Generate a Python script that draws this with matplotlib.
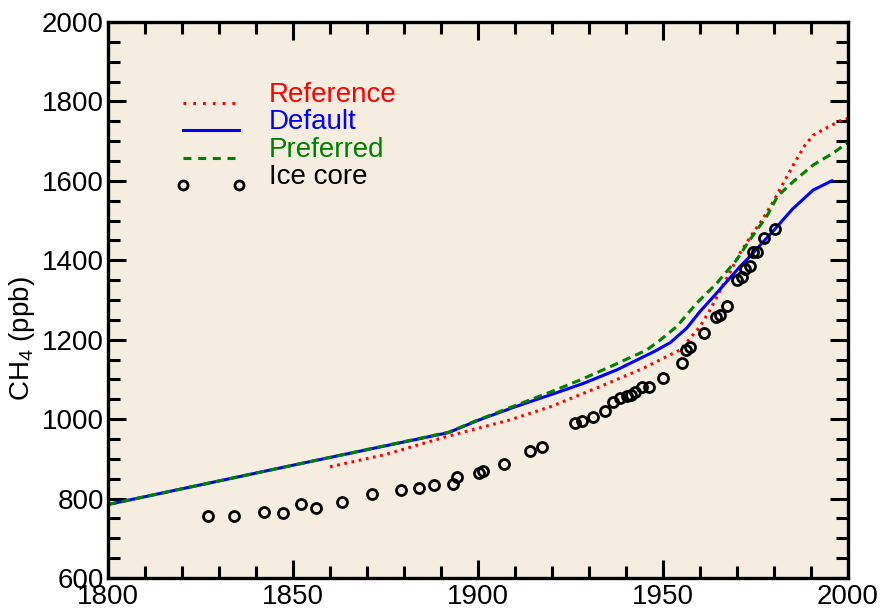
import matplotlib
matplotlib.use("Agg")
import matplotlib.pyplot as plt
from matplotlib.lines import Line2D
from matplotlib.legend_handler import HandlerLine2D
from matplotlib.ticker import MultipleLocator

plt.rcParams["font.family"] = ["Liberation Sans", "DejaVu Sans"]
plt.rcParams["mathtext.fontset"] = "custom"
plt.rcParams["mathtext.rm"] = "Liberation Sans"
plt.rcParams["mathtext.default"] = "regular"

# ---------------- data ----------------
default_years = [1800, 1850, 1892, 1900, 1910, 1919.5, 1928.5, 1937.5, 1948, 1952,
                 1956.4, 1960, 1963.6, 1967.2, 1970.8, 1973, 1980, 1985, 1990.6, 1995.6]
default_ch4 = [785, 884, 966, 997, 1031, 1061, 1090, 1124, 1172, 1193,
               1229, 1271, 1308, 1346, 1384, 1405, 1476, 1529, 1577, 1600]

preferred_years = [1800, 1850, 1892, 1900, 1910, 1919.5, 1928, 1935.7, 1945.6, 1949.2,
                   1953.7, 1959.1, 1964.5, 1969.9, 1973.5, 1978, 1981, 1985.2, 1990.6,
                   1996, 2000]
preferred_ch4 = [785, 884, 967, 998, 1034, 1068, 1100, 1132, 1174, 1199,
                 1233, 1292, 1342, 1401, 1452, 1510, 1562, 1598, 1640,
                 1670, 1697]

reference_years = [1860, 1875, 1891.5, 1908.6, 1919.5, 1933, 1944.7, 1951.9, 1954.6, 1960,
                   1962.7, 1966.3, 1970.8, 1974.4, 1976.7, 1979.8, 1982.5, 1985.7, 1988.4,
                   1990.6, 1994.7, 1998.3, 2000]
reference_ch4 = [880, 911, 956, 998, 1031, 1082, 1128, 1162, 1174, 1233,
                 1275, 1338, 1418, 1470, 1500, 1548, 1594, 1648, 1690,
                 1715, 1736, 1753, 1757]

ice_years = [1827.1, 1834.1, 1842.2, 1847.2, 1852.2, 1856.1, 1863.2, 1871.3, 1879.1, 1884.1,
             1888.2, 1893.2, 1894.2, 1900.2, 1901.3, 1907.1, 1914.1, 1917.2, 1926.2, 1928.2,
             1931.1, 1934.3, 1936.4, 1938.4, 1940.3, 1941.3, 1942.4, 1944.2, 1946.3, 1950.1,
             1955.1, 1956.1, 1957.3, 1961.2, 1964.3, 1965.3, 1967.2, 1970.1, 1971.3, 1972.2,
             1973.4, 1974.2, 1975.3, 1977.3, 1980.3]
ice_ch4 = [756, 756, 767, 764, 786, 776, 791, 812, 822, 827,
           833, 836, 854, 864, 869, 888, 921, 931, 990, 996,
           1006, 1021, 1044, 1053, 1059, 1061, 1069, 1082, 1082, 1103,
           1142, 1175, 1182, 1218, 1258, 1262, 1285, 1350, 1358, 1378,
           1386, 1422, 1422, 1457, 1479]

labels = ["Reference", "Default", "Preferred", "Ice core"]
colors = ["#ff0000", "#0000ff", "#008000", "#000000"]

# ---------------- figure ----------------
fig = plt.figure(figsize=(8.83, 6.14), dpi=100)
ax = fig.add_axes([108 / 883, 36 / 614, 740 / 883, 556 / 614])
ax.set_facecolor("#f5eee0")

lw = 2.2
ax.plot(reference_years, reference_ch4, color=colors[0], lw=lw,
        linestyle=(0, (0.9, 1.5)), zorder=2)
ax.plot(default_years, default_ch4, color=colors[1], lw=lw, zorder=3)
ax.plot(preferred_years, preferred_ch4, color=colors[2], lw=lw,
        linestyle=(0, (2.8, 1.7)), zorder=4)
ax.plot(ice_years, ice_ch4, linestyle="none", marker="o", ms=7.2, mew=2.0,
        mfc="none", mec="black", zorder=5)

ax.set_xlim(1800, 2000)
ax.set_ylim(600, 2000)
ax.xaxis.set_major_locator(MultipleLocator(50))
ax.xaxis.set_minor_locator(MultipleLocator(10))
ax.yaxis.set_major_locator(MultipleLocator(200))
ax.yaxis.set_minor_locator(MultipleLocator(50))
ax.tick_params(which="both", direction="in", top=True, right=True, width=2.2,
               labelsize=20, color="black")
ax.tick_params(which="major", length=13)
ax.tick_params(which="minor", length=8.5)
ax.tick_params(axis="x", pad=4)
ax.tick_params(axis="y", pad=3)
for s in ax.spines.values():
    s.set_linewidth(2.4)
    s.set_zorder(6)

ax.set_ylabel("CH$_4$ (ppb)", fontsize=20)
ax.yaxis.set_label_coords(-0.096, 0.43)


class ShiftedHandler(HandlerLine2D):
    def __init__(self, shift, **kw):
        super().__init__(marker_pad=0, **kw)
        self.shift = shift

    def create_artists(self, legend, orig_handle, xdescent, ydescent, width,
                       height, fontsize, trans):
        arts = super().create_artists(legend, orig_handle, xdescent, ydescent,
                                      width, height, fontsize, trans)
        for a in arts:
            a.set_ydata([y - self.shift * fontsize for y in a.get_ydata()])
        return arts


handles = [
    Line2D([], [], color=colors[0], lw=lw, linestyle=(0, (0.9, 2.3))),
    Line2D([], [], color=colors[1], lw=lw),
    Line2D([], [], color=colors[2], lw=lw, linestyle=(0, (2.6, 2.2))),
    Line2D([], [], color=colors[3], linestyle="none", marker="o", ms=6.5,
           mew=2.0, mfc="none", mec="black"),
]
hmap = {h: ShiftedHandler(0.38) for h in handles}
leg = ax.legend(handles, labels, loc="upper left",
                bbox_to_anchor=(75 / 740, 1 - 60 / 556), frameon=False,
                fontsize=20, handlelength=2.0, handletextpad=1.1,
                labelspacing=0.05, borderpad=0, borderaxespad=0,
                numpoints=2, handler_map=hmap, labelcolor="linecolor")

fig.savefig("out.png", dpi=100)
